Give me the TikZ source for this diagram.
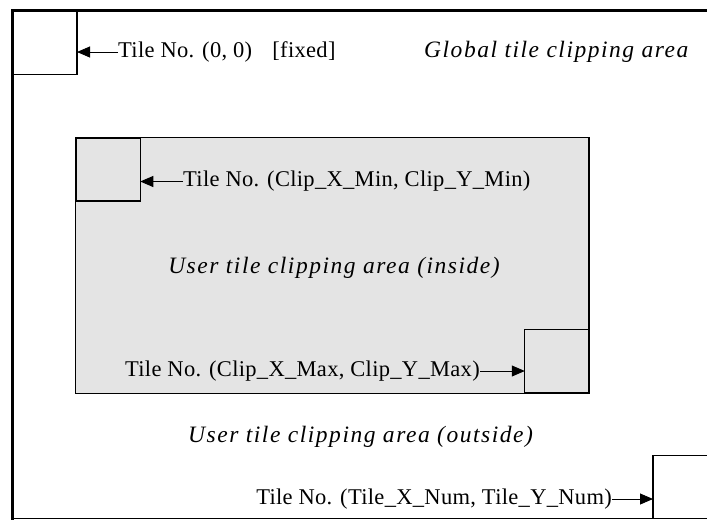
\documentclass[tikz,border=0pt]{standalone}
\usepackage{fontspec}
\setmainfont{Liberation Serif}
\usetikzlibrary{arrows.meta}
\definecolor{areagray}{HTML}{E4E4E4}
\tikzset{
  tile/.style={draw=black,line width=1.4pt,minimum width=64pt,minimum height=63pt,inner sep=0pt,outer sep=0pt},
  lbl/.style={inner sep=0pt,font=\fontsize{22.5}{26}\selectfont\addfontfeatures{LetterSpace=1.4}},
  ital/.style={inner sep=0pt,font=\fontsize{23.5}{27}\selectfont\itshape\addfontfeatures{LetterSpace=6.5}},
  arr/.style={line width=0.9pt,-{Triangle[length=13pt,width=11pt]}}
}
\begin{document}
\begin{tikzpicture}[x=1pt,y=-1pt]
\useasboundingbox (0,0) rectangle (707,520);
% global frame
\draw[line width=3pt] (11,10.5) -- (707,10.5);
\draw[line width=3pt] (12.5,9) -- (12.5,520);
\draw[line width=1pt] (12.5,518.5) -- (707,518.5);
% user area
\node[draw=black,line width=1.8pt,fill=areagray,minimum width=513.5pt,minimum height=256pt,inner sep=0pt,outer sep=0pt] (user) at (332.25,265.5) {};
% tiles
\node[tile] (t00) at (45,43) {};
\node[tile] (tmin) at (108.25,169.5) {};
\node[tile] (tmax) at (556.75,361.25) {};
\draw[line width=1.4pt] (707,455.5) -- (653,455.5) coordinate (tnumtl) -- (653,518.5) coordinate (tnumbl);
\coordinate (tnum) at (653,499);
% labels
\node[lbl,anchor=west] (l1) at (118,52) {Tile No. (0, 0)\hspace{0.9em}[fixed]};
\node[ital,anchor=west] (glob) at (424,52) {Global tile clipping area};
\node[lbl,anchor=west] (l2) at (183,181.5) {Tile No. (Clip\_X\_Min, Clip\_Y\_Min)};
\node[ital] (inside) at (334,268) {User tile clipping area (inside)};
\node[lbl,anchor=east] (l3) at (480,371) {Tile No. (Clip\_X\_Max, Clip\_Y\_Max)};
\node[ital,anchor=west] (outside) at (188,437) {User tile clipping area (outside)};
\node[lbl,anchor=east] (l4) at (612,499) {Tile No. (Tile\_X\_Num, Tile\_Y\_Num)};
% arrows
\draw[arr] (l1.west) -- (l1.west -| t00.east);
\draw[arr] (l2.west) -- (l2.west -| tmin.east);
\draw[arr] (l3.east) -- (l3.east -| tmax.west);
\draw[arr] (l4.east) -- (tnum);
\end{tikzpicture}
\end{document}
